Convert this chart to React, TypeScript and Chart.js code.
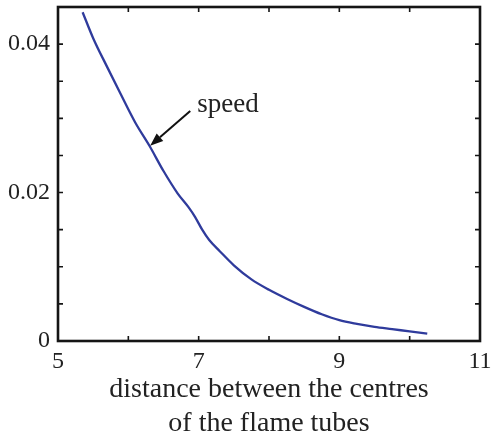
import React, { useEffect, useRef } from "react";
import { Chart, registerables } from "chart.js";

Chart.register(...registerables);

const distance = [5.35, 5.5, 5.7, 5.9, 6.1, 6.3, 6.5, 6.7, 6.85, 6.95, 7.05, 7.15, 7.3, 7.5, 7.75, 8.0, 8.25, 8.5, 8.75, 9.0, 9.25, 9.5, 9.75, 10.0, 10.25];
const speed = [0.0443, 0.0408, 0.0369, 0.0331, 0.0294, 0.0263, 0.0229, 0.0199, 0.0181, 0.0167, 0.015, 0.0136, 0.0121, 0.0102, 0.0083, 0.0069, 0.0057, 0.0046, 0.0036, 0.0028, 0.0023, 0.0019, 0.0016, 0.0013, 0.001];

const xTickValues = [5, 6, 7, 8, 9, 10, 11];
const xTickLabels = ["5", "", "7", "", "9", "", "11"];
const yTickValues = [0, 0.005, 0.01, 0.015, 0.02, 0.025, 0.03, 0.035, 0.04, 0.045];
const yTickLabels = ["0", "", "", "", "0.02", "", "", "", "0.04", ""];

const xTitle = ["distance between the centres", "of the flame tubes"];
const annotationText = "speed";
const arrowTip = [6.31, 0.0263];
const arrowTail = [6.88, 0.031];
const annotationAt = [6.98, 0.0309];

const FONT = '"Liberation Serif", "Times New Roman", serif';

function labelFor(values: number[], labels: string[], v: number) {
  for (let i = 0; i < values.length; i++) {
    if (Math.abs(values[i] - v) < 1e-9) return labels[i];
  }
  return "";
}

const framePlugin = {
  id: "frame",
  afterDraw(chart: any) {
    const { ctx, chartArea: a, scales } = chart;
    const sx = scales.x;
    const sy = scales.y;
    ctx.save();
    ctx.strokeStyle = "#151515";
    ctx.lineWidth = 1.6;
    ctx.beginPath();
    for (const v of xTickValues) {
      const px = sx.getPixelForValue(v);
      ctx.moveTo(px, a.bottom);
      ctx.lineTo(px, a.bottom - 5);
      ctx.moveTo(px, a.top);
      ctx.lineTo(px, a.top + 5);
    }
    for (const v of yTickValues) {
      const py = sy.getPixelForValue(v);
      ctx.moveTo(a.left, py);
      ctx.lineTo(a.left + 5, py);
      ctx.moveTo(a.right, py);
      ctx.lineTo(a.right - 5, py);
    }
    ctx.stroke();
    ctx.lineWidth = 2.6;
    ctx.strokeRect(a.left, a.top, a.right - a.left, a.bottom - a.top);

    // arrow
    const tx = sx.getPixelForValue(arrowTip[0]);
    const ty = sy.getPixelForValue(arrowTip[1]);
    const fx = sx.getPixelForValue(arrowTail[0]);
    const fy = sy.getPixelForValue(arrowTail[1]);
    const ang = Math.atan2(ty - fy, tx - fx);
    const headLen = 13;
    const headW = 5;
    const bx = tx - headLen * Math.cos(ang);
    const by = ty - headLen * Math.sin(ang);
    ctx.strokeStyle = "#111";
    ctx.lineWidth = 2;
    ctx.beginPath();
    ctx.moveTo(fx, fy);
    ctx.lineTo(bx, by);
    ctx.stroke();
    ctx.fillStyle = "#111";
    ctx.beginPath();
    ctx.moveTo(tx, ty);
    ctx.lineTo(bx + headW * Math.sin(ang), by - headW * Math.cos(ang));
    ctx.lineTo(bx - headW * Math.sin(ang), by + headW * Math.cos(ang));
    ctx.closePath();
    ctx.fill();

    ctx.fillStyle = "#222";
    ctx.font = "27px " + FONT;
    ctx.textAlign = "left";
    ctx.textBaseline = "alphabetic";
    ctx.fillText(annotationText, sx.getPixelForValue(annotationAt[0]), sy.getPixelForValue(annotationAt[1]));
    ctx.restore();
  },
};

export default function App() {
  const ref = useRef<HTMLCanvasElement>(null);
  useEffect(() => {
    document.body.style.margin = "0";
    const canvas = ref.current;
    if (!canvas) return;
    const chart = new Chart(canvas, {
      type: "line",
      data: {
        datasets: [
          {
            data: distance.map((d, i) => ({ x: d, y: speed[i] })),
            borderColor: "#2f3b9c",
            borderWidth: 2.3,
            pointRadius: 0,
            fill: false,
            cubicInterpolationMode: "monotone",
          },
        ],
      },
      options: {
        animation: false,
        responsive: false,
        devicePixelRatio: 1,
        layout: { padding: { top: 7, right: 12, left: 0, bottom: 0 } },
        plugins: { legend: { display: false }, tooltip: { enabled: false } },
        scales: {
          x: {
            type: "linear",
            min: 5,
            max: 11,
            grid: { display: false, drawTicks: false },
            border: { display: false },
            ticks: {
              stepSize: 1,
              padding: 6,
              color: "#222",
              font: { family: FONT, size: 24 },
              maxRotation: 0,
              autoSkip: false,
              callback: (v: any) => labelFor(xTickValues, xTickLabels, Number(v)),
            },
            title: {
              display: true,
              text: xTitle,
              color: "#222",
              font: { family: FONT, size: 28, lineHeight: 1.2 },
              padding: { top: 0, bottom: -4 },
            },
            afterFit: (s: any) => {
              s.height = 95;
              s.paddingLeft = 0;
              s.paddingRight = 0;
            },
          },
          y: {
            type: "linear",
            min: 0,
            max: 0.045,
            grid: { display: false, drawTicks: false },
            border: { display: false },
            ticks: {
              stepSize: 0.005,
              padding: 8,
              color: "#222",
              font: { family: FONT, size: 24 },
              autoSkip: false,
              callback: (v: any) => labelFor(yTickValues, yTickLabels, Number(v)),
            },
            afterFit: (s: any) => {
              s.width = 58;
              s.paddingTop = 0;
              s.paddingBottom = 0;
            },
          },
        },
      },
      plugins: [framePlugin],
    } as any);
    return () => chart.destroy();
  }, []);
  return (
    <div style={{ width: 492, height: 436 }}>
      <canvas ref={ref} width={492} height={436} style={{ display: "block" }} />
    </div>
  );
}
